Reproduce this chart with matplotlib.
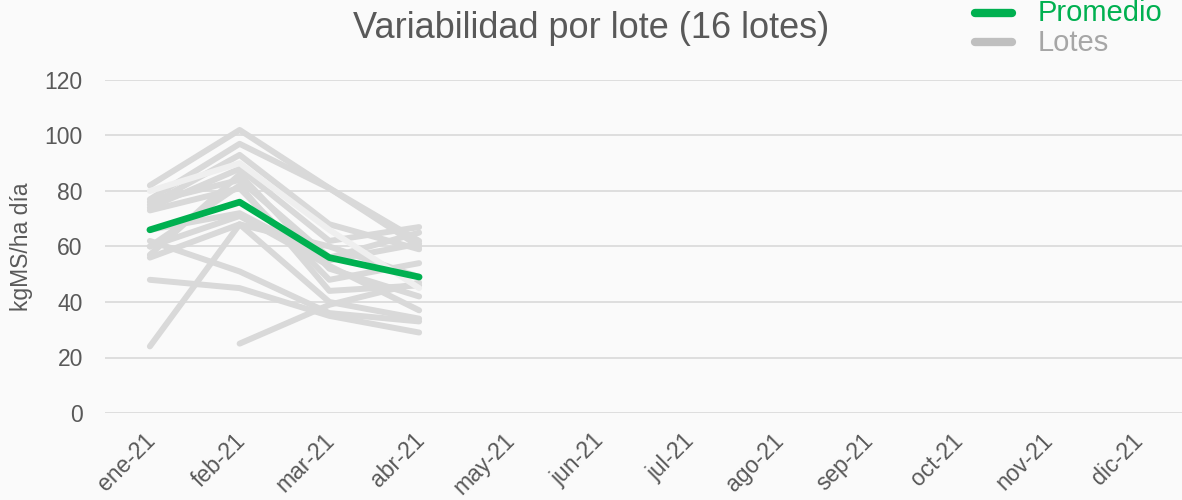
import numpy as np
import matplotlib.pyplot as plt
import matplotlib.transforms as mtransforms

plt.rcParams['font.family'] = ['Liberation Sans', 'DejaVu Sans']

meses = ['ene-21', 'feb-21', 'mar-21', 'abr-21', 'may-21', 'jun-21',
         'jul-21', 'ago-21', 'sep-21', 'oct-21', 'nov-21', 'dic-21']

# valores por lote (ene..abr), nan = sin dato
lotes = [
    [82, 102, 81, 60],
    [77, 97, 81, 62],
    [75, 93, 68, 59],
    [74, 88, 62, 67],
    [76, 84, 56, 65],
    [73, 81, 48, 54],
    [60, 82, 44, 46],
    [57, 86, 52, 42],
    [60, 71, 53, 37],
    [56, 68, 40, 34],
    [62, 51, 36, 33],
    [48, 45, 35, 29],
    [24, 68, 60, 49],
    [np.nan, 25, 39, 47],
    [66, 72, 55, 61],
]
lote_claro = [80, 90, 66, 45]
promedio = [66, 76, 56, 49]

fig = plt.figure(figsize=(11.82, 5), dpi=100, facecolor='#fafafa')
ax = fig.add_axes([105/1182, 0.174, 1 - 105/1182, 0.666])
ax.set_facecolor('#fafafa')

x = np.arange(len(lotes[0]))
for v in lotes:
    ax.plot(x, v, color='#d9d9d9', lw=4.3, solid_capstyle='round', zorder=2)
ax.plot(x, lote_claro, color='#efefef', lw=4.3, solid_capstyle='round', zorder=2)
ax.plot(x, promedio, color='#00b050', lw=4.8, solid_capstyle='round', zorder=3)

ax.set_xlim(-0.5, 11.5)
ax.set_ylim(0, 120)
ax.set_yticks(range(0, 121, 20))
ax.set_xticks(range(len(meses)))
ax.set_xticklabels(meses, rotation=45, ha='right', rotation_mode='anchor')
ax.grid(axis='y', color='#d9d9d9', lw=1.2, zorder=0)
ax.tick_params(length=0, labelsize=16.5, labelcolor='#595959', pad=16)
ax.tick_params(axis='x', pad=10)
offset = mtransforms.ScaledTranslation(-6/100, -2/100, fig.dpi_scale_trans)
for lbl in ax.get_xticklabels():
    lbl.set_transform(lbl.get_transform() + offset)
for s in ax.spines.values():
    s.set_visible(False)
ax.set_ylabel('kgMS/ha día', fontsize=16.5, color='#595959', labelpad=8)

fig.text(0.5, 0.942, 'Variabilidad por lote (16 lotes)', ha='center', va='center',
         fontsize=26, color='#595959')

# leyenda
fig.lines.append(plt.Line2D([975/1182, 1012/1182], [0.974, 0.974], transform=fig.transFigure,
                            color='#00b050', lw=6, solid_capstyle='round'))
fig.lines.append(plt.Line2D([975/1182, 1012/1182], [0.916, 0.916], transform=fig.transFigure,
                            color='#bfbfbf', lw=6, solid_capstyle='round'))
fig.text(1038/1182, 0.974, 'Promedio', color='#00b050', fontsize=21, va='center')
fig.text(1038/1182, 0.914, 'Lotes', color='#a6a6a6', fontsize=21, va='center')

fig.savefig('out.png', dpi=100, facecolor='#fafafa')
